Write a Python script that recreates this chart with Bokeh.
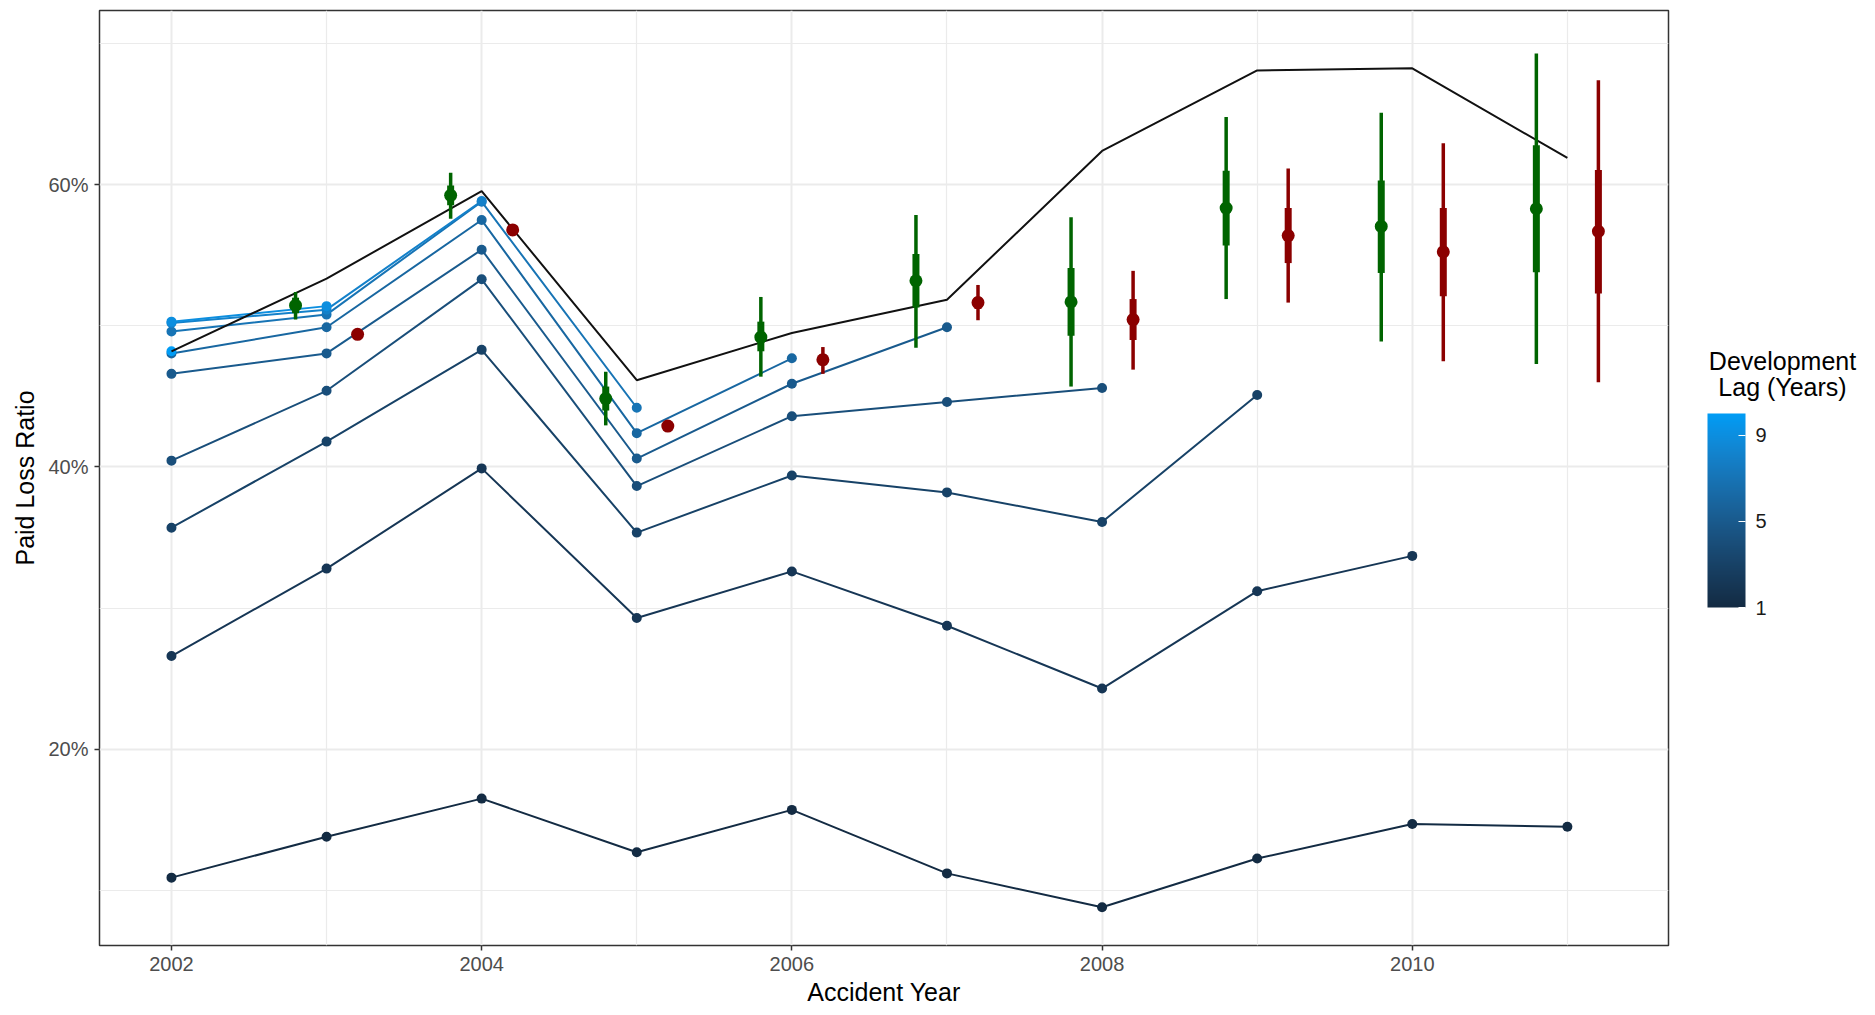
from bokeh.plotting import figure
from bokeh.layouts import row
from bokeh.models import (Range1d, FixedTicker, PrintfTickFormatter, ColorBar,
                          LinearColorMapper)
from bokeh.core.properties import value
from bokeh.embed import file_html
from bokeh.resources import INLINE

# ---------------- data ----------------
years = [2002, 2003, 2004, 2005, 2006, 2007, 2008, 2009, 2010, 2011]

lag_1 = [10.9, 13.8, 16.5, 12.7, 15.7, 11.2, 8.8, 12.25, 14.7, 14.5]
lag_2 = [26.6, 32.8, 39.9, 29.3, 32.6, 28.75, 24.3, 31.2, 33.7]
lag_3 = [35.7, 41.8, 48.3, 35.35, 39.4, 38.2, 36.1, 45.1]
lag_4 = [40.45, 45.4, 53.3, 38.65, 43.6, 44.6, 45.6]
lag_5 = [46.6, 48.05, 55.4, 40.6, 45.9, 49.9]
lag_6 = [48.05, 49.9, 57.5, 42.4, 47.7]
lag_7 = [49.6, 50.8, 58.8, 44.2]
lag_8 = [50.2, 51.15, 58.85]
lag_9 = [50.3, 51.4]
lag_10 = [48.2]
lag_series = [lag_1, lag_2, lag_3, lag_4, lag_5, lag_6, lag_7, lag_8, lag_9, lag_10]

ultimate = [48.2, 53.35, 59.55, 46.15, 49.5, 51.85, 62.4, 68.1, 68.25, 61.9]

pred_years = [2003, 2004, 2005, 2006, 2007, 2008, 2009, 2010, 2011]

green_mid = [51.45, 59.25, 44.85, 49.2, 53.2, 51.7, 58.35, 57.05, 58.3]
green_lo_outer = [50.45, 57.6, 42.95, 46.4, 48.45, 45.7, 51.9, 48.9, 47.3]
green_hi_outer = [52.4, 60.85, 46.75, 52.05, 57.85, 57.7, 64.8, 65.1, 69.3]
green_lo_inner = [50.9, 58.55, 44.0, 48.2, 51.3, 49.3, 55.7, 53.75, 53.8]
green_hi_inner = [52.0, 59.95, 45.7, 50.3, 55.1, 54.1, 61.0, 60.3, 62.8]

red_mid = [49.4, 56.8, 42.9, 47.6, 51.65, 50.45, 56.4, 55.25, 56.7]
red_lo_outer = [49.3, 56.7, 42.8, 46.6, 50.4, 46.9, 51.65, 47.5, 46.0]
red_hi_outer = [49.5, 56.9, 43.0, 48.5, 52.9, 53.9, 61.15, 62.95, 67.4]
red_lo_inner = [49.35, 56.75, 42.85, 47.2, 51.2, 49.0, 54.45, 52.1, 52.3]
red_hi_inner = [49.45, 56.85, 42.95, 48.0, 52.05, 51.9, 58.35, 58.35, 61.05]

x_ticks = [2002, 2004, 2006, 2008, 2010]
x_minor = [2003, 2005, 2007, 2009, 2011]
y_ticks = [20, 40, 60]
y_minor = [10, 30, 50, 70]
legend_ticks = [1, 5, 9]
legend_title = ["Development", "Lag (Years)"]

# ---------------- colour scale (Lab interpolation, like ggplot) ----------------
LOW, HIGH = "#132B43", "#009CF5"


def _hex_to_lab(h):
    r, g, b = [int(h[i:i + 2], 16) / 255 for i in (1, 3, 5)]
    lin = [c / 12.92 if c <= 0.04045 else ((c + 0.055) / 1.055) ** 2.4 for c in (r, g, b)]
    X = 0.4124 * lin[0] + 0.3576 * lin[1] + 0.1805 * lin[2]
    Y = 0.2126 * lin[0] + 0.7152 * lin[1] + 0.0722 * lin[2]
    Z = 0.0193 * lin[0] + 0.1192 * lin[1] + 0.9505 * lin[2]
    d = 6 / 29

    def f(t):
        return t ** (1 / 3) if t > d ** 3 else t / (3 * d * d) + 4 / 29
    fx, fy, fz = f(X / 0.95047), f(Y / 1.0), f(Z / 1.08883)
    return (116 * fy - 16, 500 * (fx - fy), 200 * (fy - fz))


def _lab_to_hex(L, a, b):
    d = 6 / 29
    fy = (L + 16) / 116
    fx = fy + a / 500
    fz = fy - b / 200

    def finv(t):
        return t ** 3 if t > d else 3 * d * d * (t - 4 / 29)
    X, Y, Z = 0.95047 * finv(fx), finv(fy), 1.08883 * finv(fz)
    r = 3.2406 * X - 1.5372 * Y - 0.4986 * Z
    g = -0.9689 * X + 1.8758 * Y + 0.0415 * Z
    bb = 0.0557 * X - 0.2040 * Y + 1.0570 * Z
    out = []
    for c in (r, g, bb):
        c = 12.92 * c if c <= 0.0031308 else 1.055 * c ** (1 / 2.4) - 0.055
        out.append(max(0, min(255, round(c * 255))))
    return "#%02x%02x%02x" % tuple(out)


_lo, _hi = _hex_to_lab(LOW), _hex_to_lab(HIGH)


def grad(t):
    return _lab_to_hex(*[_lo[i] + (_hi[i] - _lo[i]) * t for i in range(3)])


palette = [grad(i / 255) for i in range(256)]
lag_colors = [grad((k - 1) / 9) for k in range(1, 11)]

FONT = "Liberation Sans"

# ---------------- main panel ----------------
p = figure(frame_width=1569, frame_height=935,
           x_range=Range1d(2001.536, 2011.652), y_range=Range1d(6.09, 72.35),
           output_backend="svg", toolbar_location=None,
           min_border_left=99, min_border_top=10, min_border_bottom=60,
           min_border_right=2,
           background_fill_color="white", border_fill_color="white")

p.outline_line_color = "#333333"
p.outline_line_width = 1.5

p.xaxis.ticker = FixedTicker(ticks=x_ticks, minor_ticks=x_minor)
p.yaxis.ticker = FixedTicker(ticks=y_ticks, minor_ticks=y_minor)
p.xaxis.formatter = PrintfTickFormatter(format="%d")
p.yaxis.formatter = PrintfTickFormatter(format="%d%%")

for ax in (p.xaxis, p.yaxis):
    ax.axis_line_color = None
    ax.major_tick_out = 5
    ax.major_tick_in = 0
    ax.major_tick_line_color = "#333333"
    ax.major_tick_line_width = 1.5
    ax.minor_tick_line_color = None
    ax.major_label_text_font = FONT
    ax.major_label_text_font_size = "20px"
    ax.major_label_text_color = "#4D4D4D"
    ax.axis_label_text_font = FONT
    ax.axis_label_text_font_size = "25px"
    ax.axis_label_text_font_style = "normal"
    ax.axis_label_text_color = "black"

p.xaxis.axis_label = "Accident Year"
p.yaxis.axis_label = "Paid Loss Ratio"
p.xaxis.major_label_standoff = 6
p.xaxis.axis_label_standoff = 4
p.yaxis.major_label_standoff = 6
p.yaxis.axis_label_standoff = 6

for g in (p.xgrid, p.ygrid):
    g.grid_line_color = "#EBEBEB"
    g.grid_line_width = 2
    g.minor_grid_line_color = "#EBEBEB"
    g.minor_grid_line_width = 1.2

# development-lag lines, then their points
for k, vals in enumerate(lag_series):
    p.line(years[:len(vals)], vals, line_color=lag_colors[k], line_width=2)
for k, vals in enumerate(lag_series):
    p.scatter(years[:len(vals)], vals, size=10, fill_color=lag_colors[k],
              line_color=lag_colors[k], line_width=0)

# ultimate loss ratio
p.line(years, ultimate, line_color="#111111", line_width=2)

# predictive intervals (dodged left = green, right = red)
DODGE = 0.2
gx = [y - DODGE for y in pred_years]
rx = [y + DODGE for y in pred_years]
for xs, mid, lo_o, hi_o, lo_i, hi_i, col in (
        (gx, green_mid, green_lo_outer, green_hi_outer, green_lo_inner, green_hi_inner, "#006400"),
        (rx, red_mid, red_lo_outer, red_hi_outer, red_lo_inner, red_hi_inner, "#8B0000")):
    p.segment(x0=xs, y0=lo_o, x1=xs, y1=hi_o, line_color=col, line_width=3.5)
    p.segment(x0=xs, y0=lo_i, x1=xs, y1=hi_i, line_color=col, line_width=7)
    p.scatter(xs, mid, size=13, fill_color=col, line_color=col, line_width=0)

# ---------------- legend strip (pixel coordinates, y from top) ----------------
LW, LH = 195, 1005
lg = figure(width=LW, height=LH, x_range=Range1d(0, LW), y_range=Range1d(LH, 0),
            x_axis_type=None, y_axis_type=None, output_backend="svg",
            toolbar_location=None, min_border=0, outline_line_color=None,
            background_fill_color="white", border_fill_color="white")

lg.text(x=[112, 112], y=[378, 406], text=legend_title,
        text_align="center", text_baseline="alphabetic",
        text_font=value(FONT), text_font_size=value("25px"), text_color="black")

mapper = LinearColorMapper(palette=palette, low=1, high=10)
cb = ColorBar(color_mapper=mapper, ticker=FixedTicker(ticks=legend_ticks),
              width=38, height=194, location=(37, 335),
              major_label_text_font=FONT, major_label_text_font_size="20px",
              major_label_text_color="#1A1A1A", label_standoff=10,
              major_tick_line_color="white", major_tick_in=7, major_tick_out=0,
              bar_line_color=None, border_line_color=None,
              background_fill_alpha=0, margin=0, padding=0)
lg.add_layout(cb, "center")

layout = row(p, lg)
open("out.html", "w").write(file_html(layout, INLINE))
